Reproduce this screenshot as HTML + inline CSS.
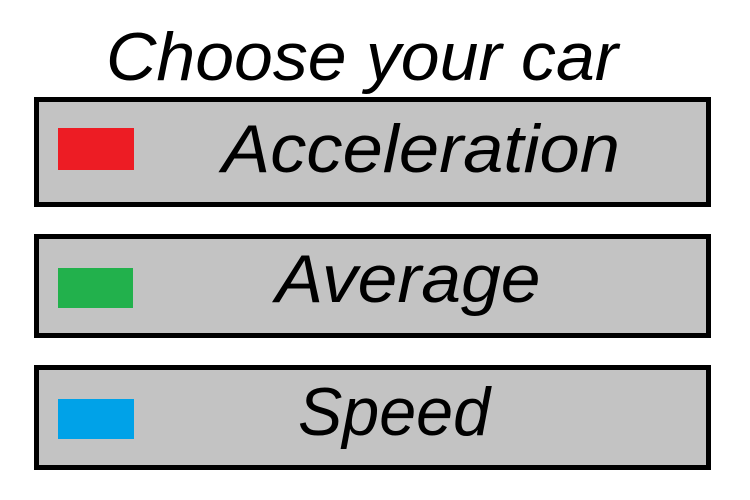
<!DOCTYPE html>
<html><head><meta charset="utf-8"><style>
html,body{margin:0;padding:0;background:#fff;width:750px;height:500px;overflow:hidden}
svg text{font-family:"Liberation Sans",sans-serif;font-style:italic;fill:#000}
</style></head><body>
<svg width="750" height="500" viewBox="0 0 750 500">
<text x="362" y="80" font-size="68" text-anchor="middle" textLength="512" lengthAdjust="spacingAndGlyphs">Choose your car</text>
<g>
<rect x="36.5" y="99.5" width="672" height="105" fill="#c3c3c3" stroke="#000" stroke-width="5"/>
<rect x="58" y="128" width="76" height="42" fill="#ed1c24"/>
<text x="421" y="172" font-size="68" text-anchor="middle" textLength="398" lengthAdjust="spacingAndGlyphs">Acceleration</text>
</g>
<g>
<rect x="36.5" y="236.5" width="672" height="99" fill="#c3c3c3" stroke="#000" stroke-width="5"/>
<rect x="58" y="268" width="75" height="40" fill="#22b14c"/>
<text x="408" y="302" font-size="68" text-anchor="middle" textLength="265" lengthAdjust="spacingAndGlyphs">Average</text>
</g>
<g>
<rect x="36.5" y="367.5" width="672" height="100" fill="#c3c3c3" stroke="#000" stroke-width="5"/>
<rect x="58" y="399" width="76" height="40" fill="#00a2e8"/>
<text x="394" y="435" font-size="68" text-anchor="middle" textLength="192" lengthAdjust="spacingAndGlyphs">Speed</text>
</g>
</svg>
</body></html>
